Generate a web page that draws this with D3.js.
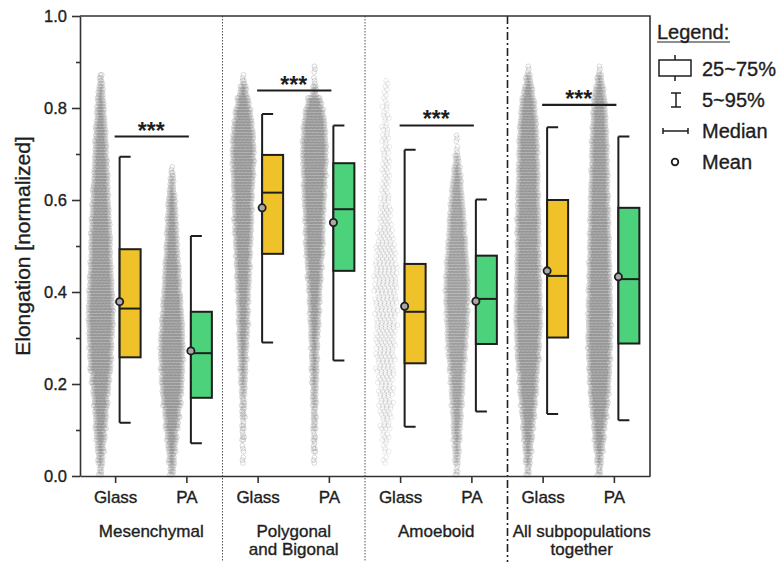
<!DOCTYPE html>
<html>
<head>
<meta charset="utf-8">
<script src="https://cdn.jsdelivr.net/npm/d3@7"></script>
<style>
  body { margin: 0; background: #fff; }
  svg { font-family: "Liberation Sans", Arial, sans-serif; }
  .label { stroke: #1e1e1e; stroke-width: 0.35px; }
</style>
</head>
<body>
<div id="chart"></div>
<script>
// categories
const groups = ["Mesenchymal", "Polygonal and Bigonal", "Amoeboid", "All subpopulations together"];
const groupLines = [["Mesenchymal"], ["Polygonal", "and Bigonal"], ["Amoeboid"], ["All subpopulations", "together"]];
const substrates = ["Glass", "PA"];

// box stats, series order: Mes Glass, Mes PA, Poly Glass, Poly PA, Amo Glass, Amo PA, All Glass, All PA
const p95    = [0.694, 0.522, 0.787, 0.762, 0.709, 0.601, 0.758, 0.738];
const q3     = [0.493, 0.357, 0.698, 0.680, 0.461, 0.479, 0.600, 0.583];
const median = [0.364, 0.267, 0.616, 0.580, 0.357, 0.385, 0.435, 0.428];
const mean   = [0.379, 0.272, 0.583, 0.551, 0.369, 0.380, 0.446, 0.433];
const q1     = [0.258, 0.170, 0.483, 0.446, 0.245, 0.287, 0.301, 0.288];
const p5     = [0.116, 0.071, 0.290, 0.251, 0.107, 0.140, 0.135, 0.121];

// significance bars per group
const sigLevel = [0.738, 0.838, 0.762, 0.807];
const sigLabel = ["***", "***", "***", "***"];

const yTicks = [0, 0.2, 0.4, 0.6, 0.8, 1.0];
const yMinor = [0.1, 0.3, 0.5, 0.7, 0.9];

// estimated number of cells per 0.025 bin (from 0 to 0.9), read off the swarm widths
const binSize = 0.025;
const swarmMesGlass  = [9,15,21,27,33,36,42,48,54,63,66,69,72,75,75,72,69,66,63,60,60,57,54,51,48,45,42,39,36,33,30,24,21,15,9,0];
const swarmMesPA     = [12,18,24,30,39,45,54,60,63,66,69,69,66,63,57,54,48,45,42,36,33,30,27,24,18,12,6,0,0,0,0,0,0,0,0,0];
const swarmPolyGlass = [0,3,3,6,6,9,9,12,15,18,21,24,27,30,30,33,36,39,42,45,48,51,54,54,57,60,63,66,66,63,57,48,36,21,6,0];
const swarmPolyPA    = [0,3,6,6,9,9,12,12,15,18,18,21,24,27,30,33,36,42,45,51,54,54,57,60,63,66,69,72,72,69,66,57,42,12,3,3];
const swarmAmoGlass  = [0,3,5,7,10,12,14,15,16,18,19,20,20,21,22,22,23,23,22,20,17,14,12,10,9,8,8,7,7,7,6,6,5,4,2,0];
const swarmAmoPA     = [6,12,15,21,24,27,33,36,39,45,51,57,60,63,66,69,69,66,63,57,54,48,45,39,33,27,21,12,3,3,0,0,0,0,0,0];
const swarmAllGlass  = [9,15,21,27,33,39,45,51,54,60,66,69,72,75,75,72,72,69,69,66,66,66,66,63,63,60,60,57,57,54,51,45,39,27,15,3];
const swarmAllPA     = [9,15,24,30,36,45,51,57,60,63,66,69,69,69,69,66,66,63,63,60,60,57,57,54,54,51,51,48,48,45,42,39,36,27,15,3];
const swarms = [swarmMesGlass, swarmMesPA, swarmPolyGlass, swarmPolyPA, swarmAmoGlass, swarmAmoPA, swarmAllGlass, swarmAllPA];

// swarm layout: point spacing and ring opacity (Amoeboid Glass is drawn looser and lighter)
const swarmStep = [1.33, 1.33, 1.33, 1.33, 4, 1.33, 1.33, 1.33];
const swarmAlpha = [0.36, 0.36, 0.36, 0.36, 0.2, 0.32, 0.36, 0.36];
const swarmRows = 4;

const colors = {Glass: "#F0C22A", PA: "#4DD27C"};
const ink = "#1e1e1e";

const W = 781, H = 562;
const plot = {left: 80, right: 650, top: 16, bottom: 476};

const svg = d3.select("#chart").append("svg")
    .attr("width", W)
    .attr("height", H);

const keys = groups.flatMap(g => substrates.map(s => g + "|" + s));

let y = d3.scaleLinear().domain([0, 1]).range([plot.bottom, plot.top]);
let xs = d3.scaleBand().domain(keys).range([plot.left, plot.right]);
let xg = d3.scaleBand().domain(groups).range([plot.left, plot.right]);
const tickX = k => xs(k) + xs.bandwidth() / 2;

//Swarms - simple packed layout of each bin's count
let pts = [];
keys.forEach((k, i) => {
    const cx = tickX(k) - 15;
    const step = swarmStep[i];
    swarms[i].forEach((n, b) => {
        for (let j = 0; j < n; j++) {
            const r = j % swarmRows;
            const c = Math.floor(j / swarmRows);
            const m = Math.ceil((n - r) / swarmRows);
            const shift = ((r * 0.618 + b * 0.382) % 1) - 0.5;   // stagger rows so no lattice shows
            const off = (c - (m - 1) / 2 + shift) * step;
            pts.push({x: cx + off, v: b * binSize + (r + 0.5) / swarmRows * binSize, a: swarmAlpha[i]});
        }
    });
});

svg.append("g").attr("class", "swarm")
    .selectAll("circle")
    .data(pts)
    .enter().append("circle")
    .attr("cx", d => d.x)
    .attr("cy", d => y(d.v))
    .attr("r", 2.4)
    .style("fill", "none")
    .style("stroke", "#6a6a6a")
    .style("stroke-width", 0.7)
    .style("stroke-opacity", d => d.a);

//Boxes
let boxes = svg.selectAll(".box")
    .data(keys)
    .enter().append("g")
    .attr("class", "box")
    .attr("transform", k => "translate(" + (tickX(k) + 4) + ",0)");

boxes.append("line")     //whisker
    .attr("x1", 0).attr("x2", 0)
    .attr("y1", (k, i) => y(p95[i]))
    .attr("y2", (k, i) => y(p5[i]))
    .style("stroke", ink).style("stroke-width", 2);

boxes.append("path")     //caps
    .attr("d", (k, i) => "M0," + y(p95[i]) + "H11M0," + y(p5[i]) + "H11")
    .style("fill", "none")
    .style("stroke", ink).style("stroke-width", 2);

boxes.append("rect")
    .attr("x", 0)
    .attr("width", 21)
    .attr("y", (k, i) => y(q3[i]))
    .attr("height", (k, i) => y(q1[i]) - y(q3[i]))
    .style("fill", k => colors[k.split("|")[1]])
    .style("stroke", ink).style("stroke-width", 2);

boxes.append("line")     //median
    .attr("x1", 0).attr("x2", 21)
    .attr("y1", (k, i) => y(median[i]))
    .attr("y2", (k, i) => y(median[i]))
    .style("stroke", ink).style("stroke-width", 2);

boxes.append("circle")   //mean
    .attr("cx", 0)
    .attr("cy", (k, i) => y(mean[i]))
    .attr("r", 3.6)
    .style("fill", "#a8a8a8")
    .style("stroke", ink).style("stroke-width", 1.8);

//Significance bars
let sig = svg.selectAll(".sig")
    .data(groups)
    .enter().append("g")
    .attr("class", "sig");

sig.append("line")
    .attr("x1", (g, i) => tickX(keys[2 * i]) - 1)
    .attr("x2", (g, i) => tickX(keys[2 * i + 1]) + 2)
    .attr("y1", (g, i) => y(sigLevel[i]))
    .attr("y2", (g, i) => y(sigLevel[i]))
    .style("stroke", ink).style("stroke-width", 2.2);

sig.append("text")
    .attr("x", (g, i) => (tickX(keys[2 * i]) + tickX(keys[2 * i + 1])) / 2)
    .attr("y", (g, i) => y(sigLevel[i]) + 2)
    .style("text-anchor", "middle")
    .style("font-size", "23px")
    .style("font-weight", "bold")
    .style("fill", ink)
    .text((g, i) => sigLabel[i]);

//Group dividers
groups.slice(1).forEach((g, i) => {
    svg.append("line")
        .attr("x1", xg(g)).attr("x2", xg(g))
        .attr("y1", plot.top).attr("y2", H)
        .style("stroke", i < 2 ? "#555" : ink)
        .style("stroke-width", i < 2 ? 1 : 1.6)
        .style("stroke-dasharray", i < 2 ? "1.5,1.5" : "8,3,2,3");
});

//Axes
let yAxis = svg.append("g")
    .attr("transform", "translate(" + plot.left + ",0)")
    .call(d3.axisLeft(y).tickValues(yTicks).tickFormat(d3.format(".1f")).tickSize(8).tickSizeOuter(0).tickPadding(5));

svg.append("g")
    .attr("transform", "translate(" + plot.left + ",0)")
    .call(d3.axisLeft(y).tickValues(yMinor).tickFormat("").tickSize(4).tickSizeOuter(0))
    .select(".domain").remove();

let xAxis = svg.append("g")
    .attr("transform", "translate(0," + plot.bottom + ")")
    .call(d3.axisBottom(xs).tickFormat(k => k.split("|")[1]).tickSize(7).tickSizeOuter(0).tickPadding(8));

svg.append("path")     //top and right frame
    .attr("d", "M" + plot.left + "," + plot.top + "H" + plot.right + "V" + plot.bottom)
    .style("fill", "none")
    .style("stroke", "#333").style("stroke-width", 1.6);

svg.selectAll(".domain, .tick line")
    .style("stroke", "#333")
    .style("stroke-width", 1.6);

yAxis.selectAll("text").attr("class", "label").style("font-size", "16.5px").style("fill", ink);
xAxis.selectAll("text").attr("class", "label").style("font-size", "17px").style("fill", ink);

//Group labels
let gl = svg.selectAll(".glabel")
    .data(groups)
    .enter().append("text")
    .attr("class", "glabel label")
    .attr("x", (g, i) => xg(g) + xg.bandwidth() / 2 + (i === 3 ? 3 : 0))
    .attr("y", 537)
    .style("text-anchor", "middle")
    .style("font-size", "17px")
    .style("fill", ink);

gl.selectAll("tspan")
    .data((g, i) => groupLines[i])
    .enter().append("tspan")
    .attr("x", function() { return d3.select(this.parentNode).attr("x"); })
    .attr("dy", (d, j) => j === 0 ? 0 : 18)
    .text(d => d);

svg.append("text")
    .attr("class", "label")
    .attr("transform", "translate(30," + ((plot.top + plot.bottom) / 2) + ") rotate(-90)")
    .style("text-anchor", "middle")
    .style("font-size", "21px")
    .style("fill", ink)
    .text("Elongation [normalized]");

//Legend
let lg = svg.append("g").attr("class", "legend").style("fill", ink);
lg.append("text").attr("class", "label").attr("x", 657).attr("y", 39).style("font-size", "20px").text("Legend:");
lg.append("line").attr("x1", 657).attr("x2", 730).attr("y1", 42).attr("y2", 42)
    .style("stroke", ink).style("stroke-width", 1.2);

const lstroke = s => s.style("fill", "none").style("stroke", ink).style("stroke-width", 1.5);
lg.append("rect").attr("x", 659).attr("y", 60).attr("width", 32).attr("height", 16).call(lstroke);
lg.append("path").attr("d", "M675,55V60M675,76V81").call(lstroke);
lg.append("path").attr("d", "M676,93V107M671,93H681M671,107H681").call(lstroke);
lg.append("path").attr("d", "M663,131H688M663,128V134M688,128V134").call(lstroke);
lg.append("circle").attr("cx", 675).attr("cy", 162).attr("r", 3.3).call(lstroke).style("stroke-width", 1.8);

const legendText = ["25~75%", "5~95%", "Median", "Mean"];
const legendY = [76, 107, 138, 169];
lg.selectAll(".ltext")
    .data(legendText)
    .enter().append("text")
    .attr("class", "ltext label")
    .attr("x", 702)
    .attr("y", (d, i) => legendY[i])
    .style("font-size", "20px")
    .text(d => d);
</script>
</body>
</html>
